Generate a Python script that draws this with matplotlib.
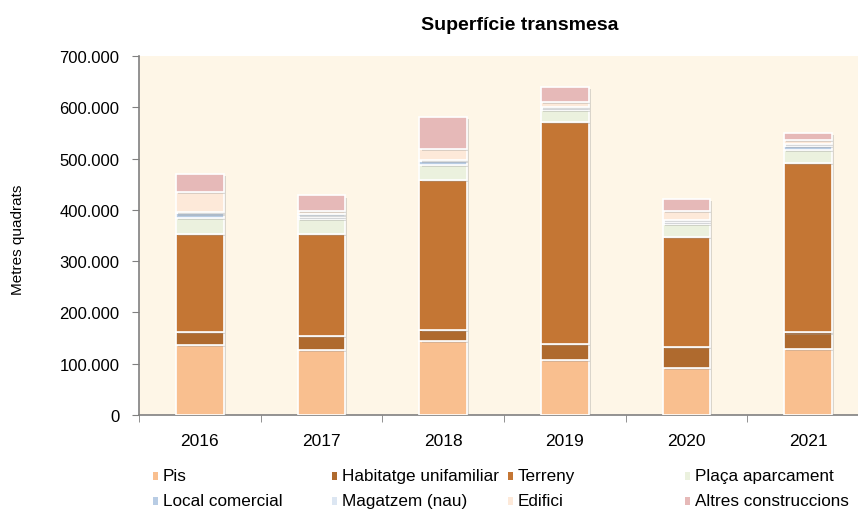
import matplotlib
matplotlib.use("Agg")
import matplotlib.pyplot as plt
import matplotlib.patheffects as pe
from matplotlib.patches import Rectangle
from matplotlib.ticker import FuncFormatter, FixedLocator
import numpy as np

plt.rcParams['font.family'] = ['Liberation Sans', 'DejaVu Sans']

years = ['2016', '2017', '2018', '2019', '2020', '2021']
series_names = ['Pis', 'Habitatge unifamiliar', 'Terreny', 'Plaça aparcament',
                'Local comercial', 'Magatzem (nau)', 'Edifici', 'Altres construccions']
pis = [136000, 126000, 144000, 107000, 92000, 128000]
habitatge = [26000, 28000, 21000, 32000, 40000, 33000]
terreny = [191000, 199000, 293000, 432000, 215000, 330000]
placa = [31000, 30000, 30000, 23000, 26000, 26000]
local = [9000, 4000, 7000, 4000, 3000, 8000]
magatzem = [2000, 4000, 3000, 3000, 5000, 4000]
edifici = [40000, 7000, 20000, 10000, 16000, 8000]
altres = [35000, 30000, 64000, 29000, 25000, 13000]
series = [pis, habitatge, terreny, placa, local, magatzem, edifici, altres]
colors = ['#F9BF8F', '#AF6A2E', '#C47634', '#EBF1DE',
          '#B8CCE4', '#DCE6F2', '#FDE9D9', '#E6B9B8']

W, H = 858, 510
fig = plt.figure(figsize=(W / 100, H / 100), dpi=100)
ax = fig.add_axes([139 / W, 1 - 416 / H, (858 - 139) / W, (416 - 57) / H])
ax.set_facecolor('#FEF6E7')

x = np.arange(len(years))
bottom = np.zeros(len(years))
shadow = [pe.SimplePatchShadow(offset=(1.5, -1.5), shadow_rgbFace='#999999', alpha=0.35), pe.Normal()]
for vals, c, name in zip(series, colors, series_names):
    bars = ax.bar(x, vals, 0.39, bottom=bottom, color=c, edgecolor='white',
                  linewidth=1.2, label=name, zorder=3)
    for b in bars:
        b.set_path_effects(shadow)
    bottom += np.array(vals)

ax.set_ylim(0, 700000)
ax.set_xlim(-0.5, 5.41)
ax.set_yticks(np.arange(0, 700001, 100000))
ax.yaxis.set_major_formatter(FuncFormatter(lambda v, p: f"{int(v):,}".replace(',', '.')))
ax.set_xticks(x)
ax.set_xticklabels(years)
ax.xaxis.set_minor_locator(FixedLocator(np.arange(-0.5, 6, 1)))
ax.tick_params(axis='x', which='major', length=0, pad=13, labelsize=12.5)
ax.tick_params(axis='x', which='minor', length=5, color='#808080', direction='out')
ax.tick_params(axis='y', length=5, color='#808080', labelsize=12, pad=9)
for s in ['top', 'right']:
    ax.spines[s].set_visible(False)
for s in ['left', 'bottom']:
    ax.spines[s].set_color('#808080')
    ax.spines[s].set_linewidth(1.2)

fig.text(520 / W, 1 - 25 / H, 'Superfície transmesa', ha='center', va='center',
         fontsize=14, fontweight='bold')
fig.text(18 / W, 1 - 240 / H, 'Metres quadrats', ha='center', va='center',
         rotation=90, fontsize=11)

# legend (manual placement)
leg_x = [153, 332, 508, 685]
leg_y = [477, 502]
for i, (name, c) in enumerate(zip(series_names, colors)):
    col, row = i % 4, i // 4
    lx, ly = leg_x[col], leg_y[row]
    fig.patches.append(Rectangle((lx / W, (H - ly - 4) / H), 5 / W, 8 / H,
                                 transform=fig.transFigure, facecolor=c,
                                 edgecolor='none'))
    fig.text((lx + 10) / W, 1 - ly / H, name, ha='left', va='center', fontsize=12.3)

fig.savefig('out.png', dpi=100)
